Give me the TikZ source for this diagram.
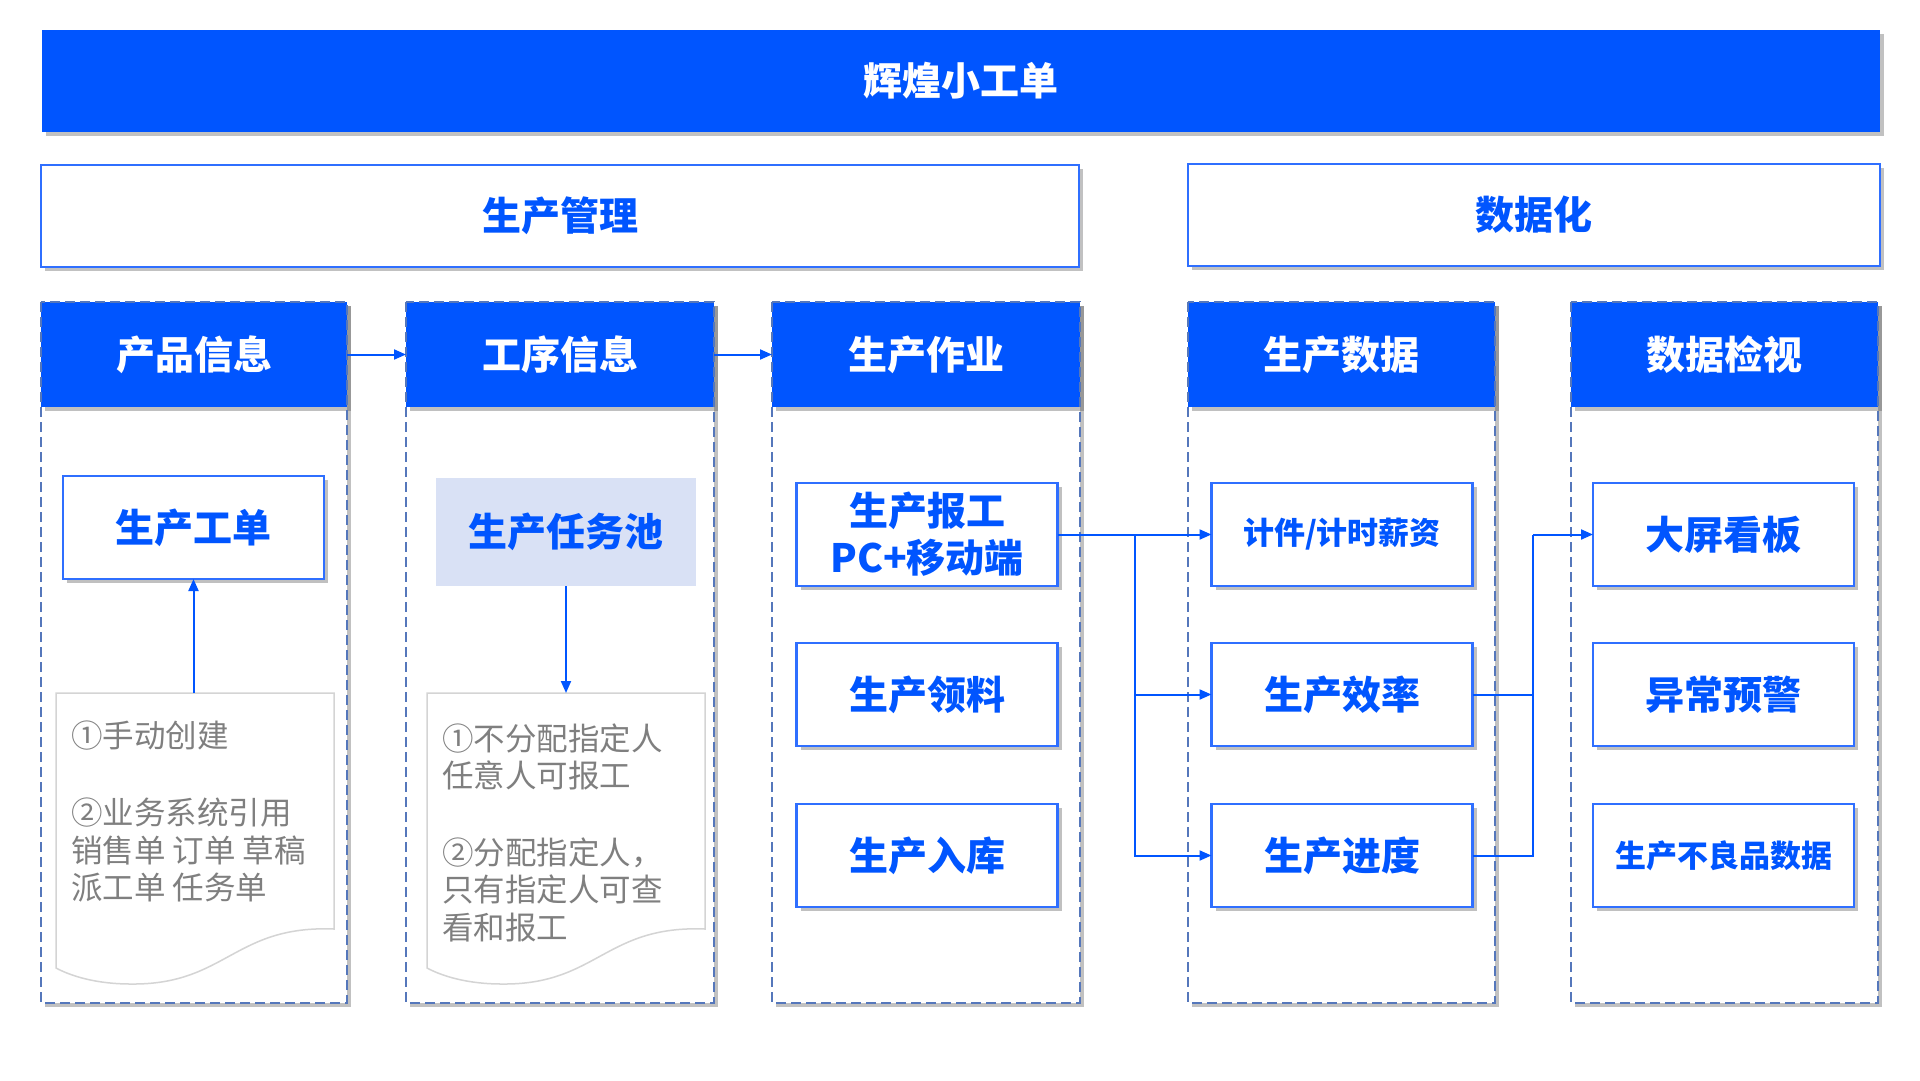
\documentclass[tikz,border=0pt]{standalone}
\usepackage{fontspec}
\setmainfont{Noto Sans CJK SC}
\usetikzlibrary{arrows.meta,shadows}
\definecolor{mblue}{HTML}{0055FF}
\definecolor{bord}{HTML}{2F6FFF}
\definecolor{dashc}{HTML}{5577BB}
\definecolor{poolf}{HTML}{D9E1F5}
\definecolor{graytxt}{HTML}{7F7F7F}
\definecolor{docl}{HTML}{D4D4D4}
\tikzset{
  shad/.style={drop shadow={shadow xshift=4pt,shadow yshift=-4pt,opacity=0.35,fill=black!70}},
  bigb/.style={font=\fontsize{39}{47}\selectfont\bfseries},
  midb/.style={font=\fontsize{31}{38}\selectfont\bfseries},
  banner/.style={fill=mblue,inner sep=0,outer sep=0,minimum width=1838,minimum height=102,shad,text=white,bigb},
  secbox/.style={draw=bord,line width=2.5pt,fill=white,inner sep=0,outer sep=0,minimum height=102,shad,text=mblue,bigb},
  colbg/.style={fill=white,inner sep=0,outer sep=0,minimum height=701,shad},
  colhead/.style={fill=mblue,inner sep=0,outer sep=0,minimum height=105,shad,text=white,bigb},
  dashbox/.style={draw=dashc,line width=2.5pt,dash pattern=on 10pt off 5pt},
  itembox/.style={draw=bord,line width=2.5pt,fill=white,inner sep=0,outer sep=0,minimum width=261,minimum height=103,shad,text=mblue,bigb,align=center},
  poolbox/.style={fill=poolf,inner sep=0,outer sep=0,minimum width=260,minimum height=108,text=mblue,bigb},
  doc/.style={draw=docl,line width=1.5pt,fill=white},
  doctxt/.style={anchor=base west,inner sep=0,text=graytxt,font=\fontsize{31.5}{38}\selectfont},
  conn/.style={draw=mblue,line width=2pt},
  arr/.style={conn,-{Triangle[length=12pt,width=10pt]}},
}
\begin{document}
\begin{tikzpicture}[x=1pt,y=-1pt]
\useasboundingbox (0,0) rectangle (1920,1080);
% banner
\node[banner] (title) at (961,81) {辉煌小工单};
\node[secbox,minimum width=1038] (scm) at (560,216) {生产管理};
\node[secbox,minimum width=692] (sdata) at (1534,215) {数据化};
% columns background
\node[colbg,minimum width=306] (c1) at (194,652.5) {};
\node[colbg,minimum width=308] (c2) at (560,652.5) {};
\node[colbg,minimum width=308] (c3) at (926,652.5) {};
\node[colbg,minimum width=307] (c4) at (1341.5,652.5) {};
\node[colbg,minimum width=307] (c5) at (1724.5,652.5) {};
% headers
\node[colhead,minimum width=306] (h1) at (194,354.5) {产品信息};
\node[colhead,minimum width=308] (h2) at (560,354.5) {工序信息};
\node[colhead,minimum width=308] (h3) at (926,354.5) {生产作业};
\node[colhead,minimum width=307] (h4) at (1341.5,354.5) {生产数据};
\node[colhead,minimum width=307] (h5) at (1724.5,354.5) {数据检视};
% dashed outlines
\foreach \c in {c1,c2,c3,c4,c5}{
  \draw[dashbox] (\c.north west) rectangle (\c.south east);
}
% column 1
\node[itembox] (gd) at (193.5,527.5) {生产工单};
\draw[doc] (56,693) -- (334,693) -- (334,929) .. controls (234,925) and (226,985) .. (131,984) .. controls (96,984) and (71,976) .. (56,968) -- cycle;
\coordinate (d1top) at (193.5,693);
\node[doctxt] (d1a) at (71,747) {①手动创建};
\node[doctxt] (d1b) at (71,824) {②业务系统引用};
\node[doctxt] (d1c) at (71,862) {销售单 订单 草稿};
\node[doctxt] (d1d) at (71,899) {派工单 任务单};
% column 2
\node[poolbox] (pool) at (566,532) {生产任务池};
\draw[doc] (427,693) -- (705,693) -- (705,929) .. controls (605,925) and (597,985) .. (502,984) .. controls (467,984) and (442,976) .. (427,968) -- cycle;
\coordinate (d2top) at (566,693);
\node[doctxt] (d2a) at (442,750) {①不分配指定人};
\node[doctxt] (d2b) at (442,787) {任意人可报工};
\node[doctxt] (d2c) at (442,864) {②分配指定人，};
\node[doctxt] (d2d) at (442,901) {只有指定人可查};
\node[doctxt] (d2e) at (442,939) {看和报工};
% column 3
\node[itembox] (bg) at (927,534.5) {生产报工\\PC+移动端};
\node[itembox] (ll) at (927,694.5) {生产领料};
\node[itembox] (rk) at (927,855.5) {生产入库};
% column 4
\node[itembox,midb] (jj) at (1342,534.5) {计件/计时薪资};
\node[itembox] (xl) at (1342,694.5) {生产效率};
\node[itembox] (jd) at (1342,855.5) {生产进度};
% column 5
\node[itembox] (dp) at (1723.5,534.5) {大屏看板};
\node[itembox] (yj) at (1723.5,694.5) {异常预警};
\node[itembox,midb] (bl) at (1723.5,855.5) {生产不良品数据};
% connectors
\draw[arr] (h1.east) -- (h2.west);
\draw[arr] (h2.east) -- (h3.west);
\draw[arr] (d1top) -- (gd.south);
\draw[arr] (pool.south) -- (d2top);
\coordinate (jn) at (1135,534.5);
\coordinate (jr) at (1533,534.5);
\draw[arr] (bg.east) -- (jj.west);
\draw[arr] (jn) |- (xl.west);
\draw[arr] (jn) |- (jd.west);
\draw[conn] (xl.east) -| (jr);
\draw[conn] (jd.east) -| (jr);
\draw[arr] (jr) -- (dp.west);
\end{tikzpicture}
\end{document}
